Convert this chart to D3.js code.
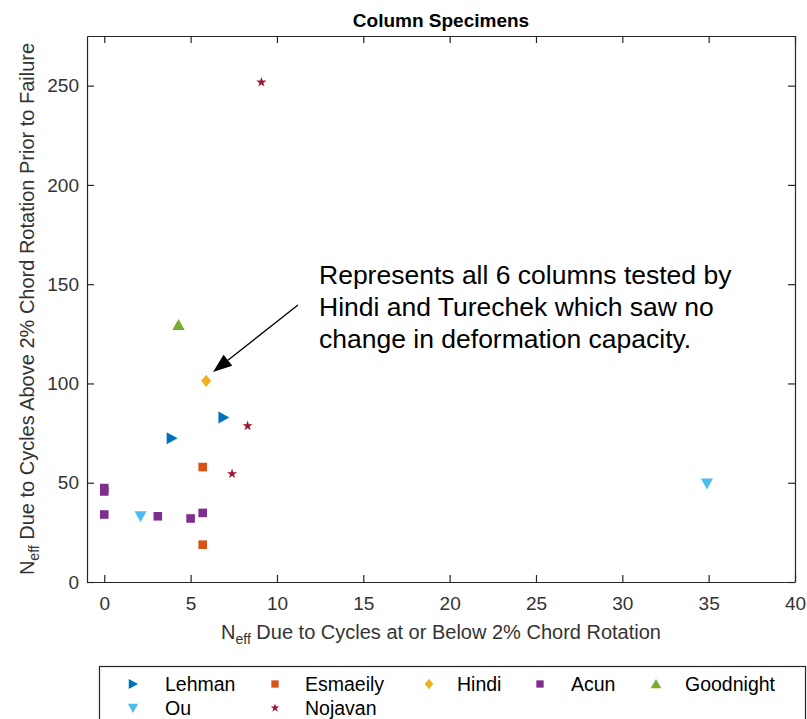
<!DOCTYPE html>
<html>
<head>
<meta charset="utf-8">
<script src="https://cdn.jsdelivr.net/npm/d3@7"></script>
<style>
  html, body { margin: 0; padding: 0; background: #fff; }
  svg { display: block; font-family: "Liberation Sans", Arial, Helvetica, sans-serif; }
</style>
</head>
<body>
<svg id="chart" width="807" height="719"></svg>
<script>
// ---- data -------------------------------------------------------------
const seriesNames = ["Lehman", "Esmaeily", "Hindi", "Acun", "Goodnight", "Ou", "Nojavan"];
const seriesColors = ["#0072BD", "#D95319", "#EDB120", "#7E2F8E", "#77AC30", "#4DBEEE", "#A2142F"];
const seriesMarkers = ["right", "square", "diamond", "square", "up", "down", "star"];

const lehmanX = [3.9, 6.9];
const lehmanY = [72.4, 82.8];
const esmaeilyX = [5.7, 5.7];
const esmaeilyY = [57.9, 18.8];
const hindiX = [5.9];
const hindiY = [101.3];
const acunX = [0, 0, 0, 3.1, 5.0, 5.7];
const acunY = [47.3, 45.6, 34.0, 33.1, 32.0, 34.8];
const goodnightX = [4.3];
const goodnightY = [129.5];
const ouX = [2.1, 34.9];
const ouY = [33.1, 49.6];
const nojavanX = [9.1, 8.3, 7.4];
const nojavanY = [251.7, 78.6, 54.5];

const xTicks = [0, 5, 10, 15, 20, 25, 30, 35, 40];
const yTicks = [0, 50, 100, 150, 200, 250];

const titleText = "Column Specimens";
const xLabelRest = " Due to Cycles at or Below 2% Chord Rotation";
const yLabelRest = " Due to Cycles Above 2% Chord Rotation Prior to Failure";
const noteLines = [
  "Represents all 6 columns tested by",
  "Hindi and Turechek which saw no",
  "change in deformation capacity."
];

const seriesX = [lehmanX, esmaeilyX, hindiX, acunX, goodnightX, ouX, nojavanX];
const seriesY = [lehmanY, esmaeilyY, hindiY, acunY, goodnightY, ouY, nojavanY];

// ---- layout -----------------------------------------------------------
const plot = { left: 87, right: 795, top: 36, bottom: 582 };
const axisColor = "#262626";
const tickLen = 7;

const svg = d3.select("#chart");

const x = d3.scaleLinear().domain([-1, 40]).range([plot.left, plot.right]);
const y = d3.scaleLinear().domain([0, 275]).range([plot.bottom, plot.top]);

// marker shapes (MATLAB-like)
function markerPath(kind) {
  const p = d3.path();
  if (kind === "square") {
    const h = 4.3;
    p.rect(-h, -h, 2 * h, 2 * h);
  } else if (kind === "diamond") {
    p.moveTo(0, -6.2); p.lineTo(5, 0); p.lineTo(0, 6.2); p.lineTo(-5, 0); p.closePath();
  } else if (kind === "right") {
    p.moveTo(-5, -6); p.lineTo(6, 0); p.lineTo(-5, 6); p.closePath();
  } else if (kind === "up") {
    p.moveTo(0, -6); p.lineTo(6.2, 5); p.lineTo(-6.2, 5); p.closePath();
  } else if (kind === "down") {
    p.moveTo(-6, -5); p.lineTo(6, -5); p.lineTo(0, 6); p.closePath();
  } else if (kind === "star") {
    return d3.symbol().type(d3.symbolStar).size(32)();
  }
  return p.toString();
}

// ---- axes box ---------------------------------------------------------
const gAxes = svg.append("g");

gAxes.append("rect")
  .attr("x", plot.left).attr("y", plot.top)
  .attr("width", plot.right - plot.left).attr("height", plot.bottom - plot.top)
  .attr("fill", "#fff");

function styleAxis(g) {
  g.selectAll("path.domain").attr("stroke", axisColor).attr("stroke-width", 1.2);
  g.selectAll(".tick line").attr("stroke", axisColor).attr("stroke-width", 1.2);
  g.selectAll(".tick text")
    .attr("fill", "#333")
    .style("font-size", "19px")
    .style("font-family", "'Liberation Sans', Arial, sans-serif");
}

gAxes.append("g")
  .attr("transform", `translate(0,${plot.bottom})`)
  .call(d3.axisBottom(x).tickValues(xTicks).tickSizeInner(-tickLen).tickSizeOuter(0).tickPadding(15))
  .call(styleAxis);

gAxes.append("g")
  .attr("transform", `translate(0,${plot.top})`)
  .call(d3.axisTop(x).tickValues(xTicks).tickSizeInner(-tickLen).tickSizeOuter(0).tickFormat(""))
  .call(styleAxis);

gAxes.append("g")
  .attr("transform", `translate(${plot.left},0)`)
  .call(d3.axisLeft(y).tickValues(yTicks).tickSizeInner(-tickLen).tickSizeOuter(0).tickPadding(8))
  .call(styleAxis);

gAxes.append("g")
  .attr("transform", `translate(${plot.right},0)`)
  .call(d3.axisRight(y).tickValues(yTicks).tickSizeInner(-tickLen).tickSizeOuter(0).tickFormat(""))
  .call(styleAxis);

// ---- title and axis labels --------------------------------------------
svg.append("text")
  .attr("x", (plot.left + plot.right) / 2)
  .attr("y", 27)
  .attr("text-anchor", "middle")
  .attr("font-weight", "bold")
  .attr("font-size", 19)
  .attr("fill", "#000")
  .text(titleText);

function neffLabel(sel, rest) {
  sel.append("tspan").text("N");
  sel.append("tspan").attr("dy", "0.38em").attr("font-size", 14).text("eff");
  sel.append("tspan").attr("dy", "-0.27em").text(rest);
}

svg.append("text")
  .attr("x", (plot.left + plot.right) / 2)
  .attr("y", 639)
  .attr("text-anchor", "middle")
  .attr("font-size", 20)
  .attr("fill", "#333")
  .call(neffLabel, xLabelRest);

svg.append("text")
  .attr("transform", `translate(34,${(plot.top + plot.bottom) / 2}) rotate(-90)`)
  .attr("text-anchor", "middle")
  .attr("font-size", 20)
  .attr("fill", "#333")
  .call(neffLabel, yLabelRest);

// ---- data points ------------------------------------------------------
const points = [];
seriesNames.forEach((name, i) => {
  seriesX[i].forEach((vx, j) => points.push({ series: i, x: vx, y: seriesY[i][j] }));
});

svg.append("g").selectAll("path")
  .data(points)
  .join("path")
  .attr("transform", d => `translate(${x(d.x)},${y(d.y)})`)
  .attr("d", d => markerPath(seriesMarkers[d.series]))
  .attr("fill", d => seriesColors[d.series])
  .attr("stroke", "none");

// ---- annotation -------------------------------------------------------
const note = svg.append("text")
  .attr("font-size", 26.5)
  .attr("fill", "#000");
noteLines.forEach((line, i) => {
  note.append("tspan").attr("x", 319).attr("y", 284 + i * 32).text(line);
});

// arrow pointing at the Hindi marker
const tail = [298, 305];
const tip = [213, 372];
const ang = Math.atan2(tip[1] - tail[1], tip[0] - tail[0]);
const headLen = 19, headHalf = 7;
const bx = tip[0] - headLen * Math.cos(ang), by = tip[1] - headLen * Math.sin(ang);
svg.append("line")
  .attr("x1", tail[0]).attr("y1", tail[1]).attr("x2", bx).attr("y2", by)
  .attr("stroke", "#000").attr("stroke-width", 1.3);
svg.append("path")
  .attr("d", `M${tip[0]},${tip[1]}L${bx + headHalf * Math.sin(ang)},${by - headHalf * Math.cos(ang)}L${bx - headHalf * Math.sin(ang)},${by + headHalf * Math.cos(ang)}Z`)
  .attr("fill", "#000");

// ---- legend -----------------------------------------------------------
const legend = svg.append("g");
legend.append("rect")
  .attr("x", 99.5).attr("y", 666.5).attr("width", 706).attr("height", 60)
  .attr("fill", "#fff").attr("stroke", axisColor).attr("stroke-width", 1.2);

const legendMarkerX = [133, 275, 429, 540, 656];
const legendTextX = [165, 305, 457, 571, 685];
const legendRowY = [684, 708];

const legendItems = legend.selectAll("g.item")
  .data(seriesNames.map((n, i) => ({ name: n, i, col: i % 5, row: Math.floor(i / 5) })))
  .join("g")
  .attr("class", "item");

legendItems.append("path")
  .attr("transform", d => `translate(${legendMarkerX[d.col]},${legendRowY[d.row]}) scale(0.85)`)
  .attr("d", d => markerPath(seriesMarkers[d.i]))
  .attr("fill", d => seriesColors[d.i]);

legendItems.append("text")
  .attr("x", d => legendTextX[d.col])
  .attr("y", d => legendRowY[d.row])
  .attr("dy", "0.35em")
  .attr("font-size", 19.5)
  .attr("fill", "#000")
  .text(d => d.name);
</script>
</body>
</html>
